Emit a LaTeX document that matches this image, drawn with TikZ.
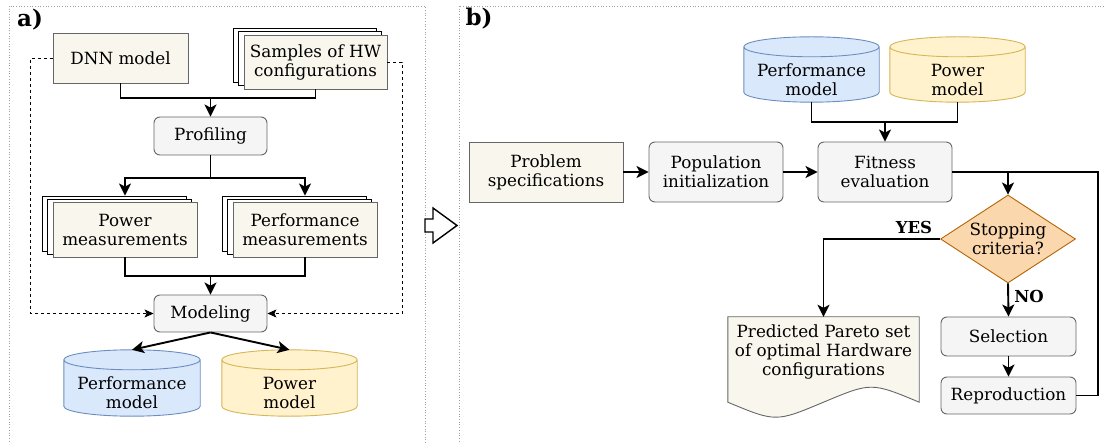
\documentclass[tikz,border=0pt]{standalone}
\usepackage{fontspec}
\setmainfont{DejaVu Serif}
\usetikzlibrary{arrows.meta,shapes.geometric,backgrounds,calc}
\definecolor{creamf}{HTML}{F9F7ED}
\definecolor{bordc}{HTML}{666666}
\definecolor{grayf}{HTML}{F5F5F5}
\definecolor{bluef}{HTML}{DAE8FC}
\definecolor{blued}{HTML}{6C8EBF}
\definecolor{yellf}{HTML}{FFF2CC}
\definecolor{yelld}{HTML}{D6B656}
\definecolor{orf}{HTML}{FAD7AC}
\definecolor{ord}{HTML}{B46504}
\definecolor{panelc}{HTML}{A0A0A0}
\newcommand\mycyl[3]{%
  \begin{scope}[on background layer]
  \path let \p1=(#1.north west), \p2=(#1.south east), \n1={(\x2-\x1)/2} in
    [fill=#2,draw=#3,line width=0.9pt]
    (\x1,\y1+10pt) -- (\x1,\y2+10pt) arc[start angle=180,end angle=360,x radius=\n1,y radius=10pt]
    -- (\x2,\y1+10pt) arc[start angle=0,end angle=180,x radius=\n1,y radius=10pt] -- cycle
    (\x1,\y1+10pt) arc[start angle=180,end angle=360,x radius=\n1,y radius=10pt];
  \end{scope}}
\begin{document}
\begin{tikzpicture}[x=1pt,y=-1pt,
  txt/.style={font=\fontsize{16.8}{19}\selectfont, align=center, inner sep=0pt},
  box/.style={txt, draw=bordc, fill=creamf, line width=0.9pt},
  backbox/.style={draw=black, fill=white, line width=0.9pt, inner sep=0pt},
  rbox/.style={txt, draw=bordc, fill=grayf, line width=0.9pt, rounded corners=6pt},
  cylnode/.style={txt},
  conn/.style={line width=1.9pt, -{Stealth[length=12pt,width=12pt,inset=3pt]}},
  plainline/.style={line width=1.9pt},
  dconn/.style={line width=0.9pt, dash pattern=on 3pt off 3pt, -{Stealth[length=9pt,width=8pt,inset=2pt]}},
  panel/.style={draw=panelc, line width=0.7pt, dotted},
  lbl/.style={font=\bfseries\fontsize{23}{26}\selectfont, inner sep=0pt},
  yn/.style={font=\bfseries\fontsize{16.5}{19}\selectfont, inner sep=0pt}
]
\useasboundingbox (0,0) rectangle (1105,443);
% panels
\draw[panel] (9,6) rectangle (425,470);
\draw[panel] (459,6) rectangle (1130,470);
\node[lbl] (la) at (30,20) {a)};
\node[lbl] (lb) at (479,19) {b)};
% hollow arrow between panels
\draw[line width=1.4pt, fill=white, line join=miter] (425,219) -- (433,219) -- (433,208) -- (457,225.5) -- (433,243) -- (433,232) -- (425,232) -- cycle;

% ---------- panel a ----------
\node[box, minimum width=135, minimum height=50] (dnn) at (120.5,58) {DNN model};
\node[backbox, minimum width=143, minimum height=54] (hw3) at (304.5,55) {};
\node[backbox, minimum width=143, minimum height=54] (hw2) at (310,58.5) {};
\node[box, minimum width=143, minimum height=54] (hw) at (315.5,62) {Samples of HW\\configurations};
\node[rbox, minimum width=113, minimum height=38] (prof) at (210.5,136) {Profiling};
\node[backbox, minimum width=144, minimum height=55] (pw3) at (114,223.5) {};
\node[backbox, minimum width=144, minimum height=55] (pw2) at (119.5,226.5) {};
\node[box, minimum width=144, minimum height=55] (pw) at (125,229.5) {Power\\measurements};
\node[backbox, minimum width=144, minimum height=55] (pf3) at (294,223.5) {};
\node[backbox, minimum width=144, minimum height=55] (pf2) at (299.5,226.5) {};
\node[box, minimum width=144, minimum height=55] (pf) at (305,229.5) {Performance\\measurements};
\node[rbox, minimum width=113, minimum height=37] (mod) at (210.5,313.5) {Modeling};
\node[cylnode, minimum width=136, minimum height=46] (ca1) at (132,393) {Performance\\model};
\node[cylnode, minimum width=135, minimum height=46] (ca2) at (289.5,393) {Power\\model};
\mycyl{ca1}{bluef}{blued}
\mycyl{ca2}{yellf}{yelld}

\coordinate (j1) at (210.5,98);
\draw[plainline] (dnn.south) |- (j1) -| (hw.south);
\draw[conn] (j1) -- (prof.north);
\coordinate (j2) at (210.5,178);
\draw[plainline] (prof.south) -- (j2);
\draw[conn] (j2) -| (pw.center |- pw3.north);
\draw[conn] (j2) -| (pf.center |- pf3.north);
\coordinate (j3) at (210.5,276);
\draw[plainline] (pw.south) |- (j3) -| (pf.south);
\draw[conn] (j3) -- (mod.north);
\draw[dconn] (dnn.west) -- ++(-22,0) |- (mod.west);
\draw[dconn] (hw.east) -- ++(15,0) |- (mod.east);
\draw[conn] (mod.south) -- ($(ca1.north)+(0,-20)$);
\draw[conn] (mod.south) -- ($(ca2.north)+(0,-20)$);

% ---------- panel b ----------
\node[cylnode, minimum width=135, minimum height=45] (cb1) at (811.5,79.5) {Performance\\model};
\node[cylnode, minimum width=135, minimum height=45] (cb2) at (957.5,79.5) {Power\\model};
\mycyl{cb1}{bluef}{blued}
\mycyl{cb2}{yellf}{yelld}
\node[box, minimum width=154, minimum height=60] (prob) at (546,172) {Problem\\specifications};
\node[rbox, minimum width=134, minimum height=60] (pop) at (716,172) {Population\\initialization};
\node[rbox, minimum width=134, minimum height=60] (fit) at (885,172) {Fitness\\evaluation};
\node[txt, diamond, draw=ord, fill=orf, line width=0.9pt, aspect=1.53, minimum width=135, minimum height=88] (dia) at (1008,239) {Stopping\\criteria?};
\node[txt, minimum width=191, minimum height=70] (pred) at (823.5,352) {Predicted Pareto set\\of optimal Hardware\\configurations};
\begin{scope}[on background layer]
\draw[draw=bordc, fill=creamf, line width=0.9pt] (pred.north west) -- (pred.north east) -- ($(pred.south east)+(0,15)$)
  .. controls ($(pred.south)+(47.75,-5)$) .. ($(pred.south)+(0,15)$)
  .. controls ($(pred.south)+(-47.75,35)$) .. ($(pred.south west)+(0,15)$) -- cycle;
\end{scope}
\node[rbox, minimum width=135, minimum height=39] (sel) at (1008.5,336.5) {Selection};
\node[rbox, minimum width=135, minimum height=37] (rep) at (1008.5,395.5) {Reproduction};

\coordinate (j4) at (885,122);
\draw[plainline] (cb1.south) |- (j4) -| (cb2.south);
\draw[conn] (j4) -- (fit.north);
\draw[conn] (prob.east) -- (pop.west);
\draw[conn] (pop.east) -- (fit.west);
\coordinate (j5) at (1008,172);
\coordinate (c1) at (1098,172);
\draw[plainline] (fit.east) -- (c1) |- (rep.east);
\draw[conn] (j5) -- (dia.north);
\draw[conn] (dia.west) -| (pred.north);
\node[yn] (yes) at (914,227) {YES};
\draw[conn] (dia.south) -- (sel.north);
\node[yn] (no) at (1029,296) {NO};
\draw[conn] (sel.south) -- (rep.north);
\end{tikzpicture}
\end{document}
